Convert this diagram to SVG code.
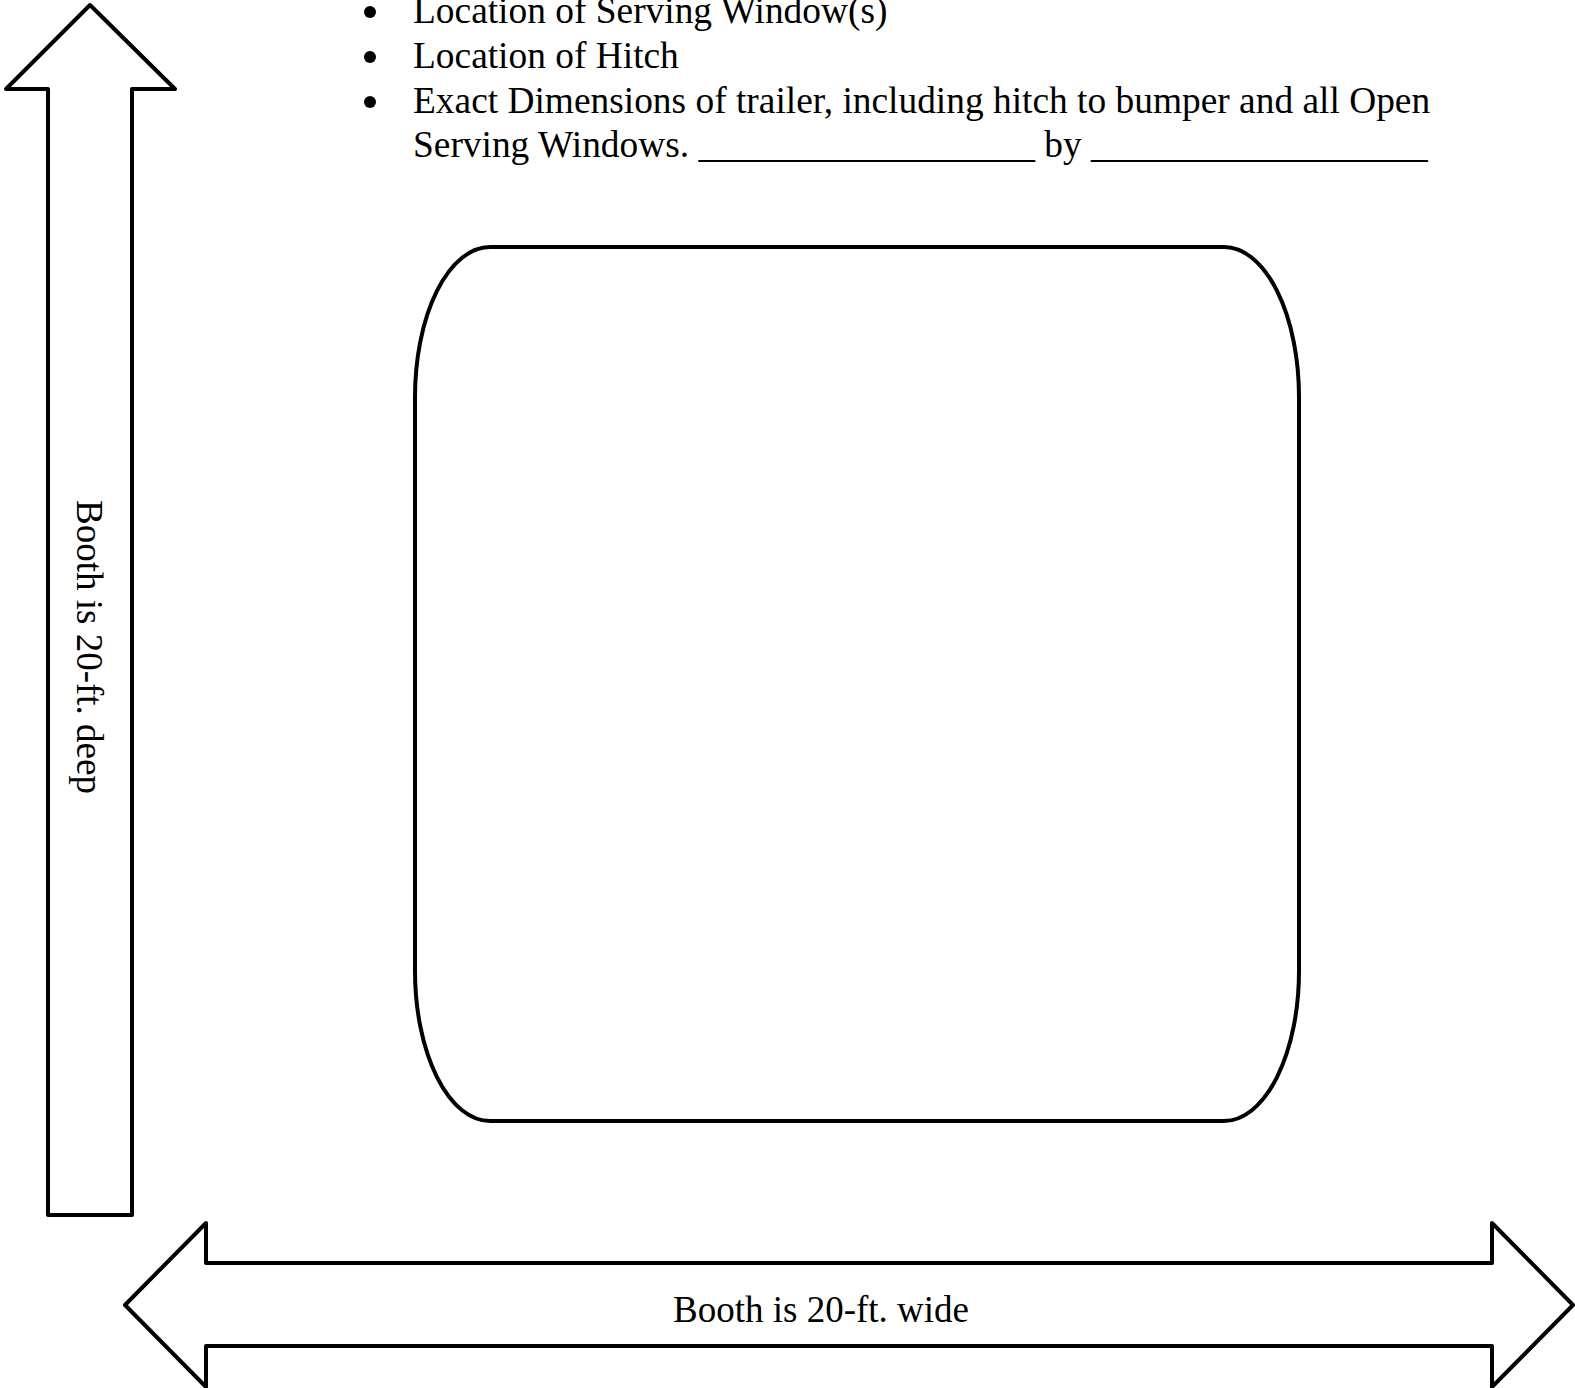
<svg xmlns="http://www.w3.org/2000/svg" width="1575" height="1388" viewBox="0 0 1575 1388">
<style>
.t{font-family:"Liberation Serif","Times New Roman",serif;font-size:37px;fill:#000}
.b{font-size:37.4px}
.s{fill:#fff;stroke:#000;stroke-width:4;stroke-linejoin:round}
</style>
<rect width="1575" height="1388" fill="#fff"/>
<g id="bullets">
<circle cx="370" cy="12" r="6"/>
<circle cx="370" cy="57" r="6"/>
<circle cx="370" cy="102" r="6"/>
<text class="t b" x="413" y="23">Location of Serving Window(s)</text>
<text class="t b" x="413" y="68">Location of Hitch</text>
<text class="t b" x="413" y="113">Exact Dimensions of trailer, including hitch to bumper and all Open</text>
<text class="t b" x="413" y="157">Serving Windows. __________________ by __________________</text>
</g>
<g id="trailer">
<rect class="s" x="415" y="247" width="884" height="874" rx="75" ry="150"/>
</g>
<g id="depth-arrow">
<path class="s" d="M90 5 L175 89 L132 89 L132 1215 L48 1215 L48 89 L6 89 Z"/>
<text class="t" transform="translate(77 647) rotate(90)" text-anchor="middle">Booth is 20-ft. deep</text>
</g>
<g id="width-arrow">
<path class="s" d="M125 1305 L206 1223 L206 1263 L1492 1263 L1492 1223 L1573 1305 L1492 1387 L1492 1346 L206 1346 L206 1387 Z"/>
<text class="t" x="821" y="1322" text-anchor="middle">Booth is 20-ft. wide</text>
</g>
</svg>
